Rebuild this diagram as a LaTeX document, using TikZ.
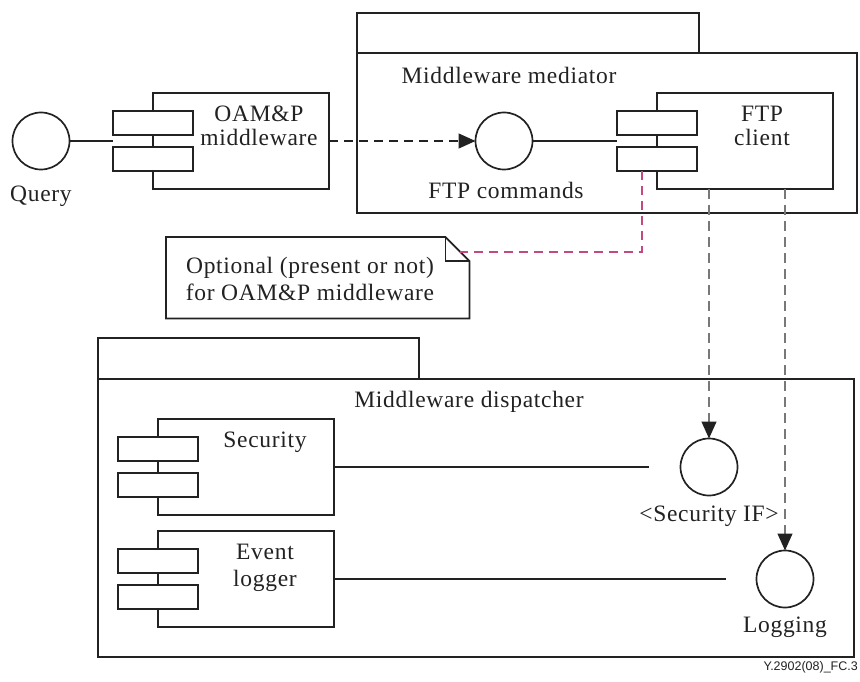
\documentclass[tikz,border=0pt]{standalone}
\usepackage{fontspec}
\setmainfont{Liberation Serif}[LetterSpace=3]
\setsansfont{Liberation Sans}
\usetikzlibrary{arrows.meta,calc}

\definecolor{ink}{RGB}{34,34,34}
\definecolor{depgray}{RGB}{120,120,120}
\definecolor{notepink}{RGB}{196,72,132}

\tikzset{
  box/.style={draw=ink, line width=1.7pt, fill=white, inner sep=0pt, outer sep=0pt},
  comp/.style={box, minimum width=176pt, minimum height=96pt, anchor=north west},
  port/.style={box, minimum width=80pt, minimum height=24pt, anchor=north west},
  iface/.style={circle, draw=ink, line width=1.7pt, fill=white, minimum size=57pt, inner sep=0pt, outer sep=0pt},
  lbl/.style={inner sep=0pt, anchor=base, text=ink, font=\fontsize{23.5}{25}\selectfont},
  wire/.style={draw=ink, line width=1.6pt},
  usage/.style={draw=ink, line width=1.2pt, dash pattern=on 9pt off 6pt,
    -{Triangle[length=17pt,width=15pt]}},
  depend/.style={draw=depgray, line width=1.2pt, dash pattern=on 10pt off 6pt,
    -{Triangle[length=17pt,width=15pt,color=ink]}},
  notelink/.style={draw=notepink, line width=1.2pt, dash pattern=on 9pt off 6pt},
}

% UML component: body plus two port rectangles on its left edge
\newcommand\umlcomponent[3]{%
  \node[comp] (#1) at (#2,#3) {};
  \node[port] (#1-p1) at (#2-40,#3+18) {};
  \node[port] (#1-p2) at (#2-40,#3+54) {};
  \coordinate (#1-in) at ($(#1-p1.south west)!0.5!(#1-p2.north west)$);
}

\begin{document}
\begin{tikzpicture}[x=1pt,y=-1pt]
\useasboundingbox (0,0) rectangle (860,682);

% ---- Middleware mediator package ----
\node[box, minimum width=342pt, minimum height=40pt, anchor=north west] (medtab) at (357,13) {};
\node[box, minimum width=500pt, minimum height=160pt, anchor=north west] (med) at (357,53) {};
\node[lbl] (medname) at (509,84) {Middleware mediator};

% ---- Middleware dispatcher package ----
\node[box, minimum width=321pt, minimum height=41pt, anchor=north west] (distab) at (98,338) {};
\node[box, minimum width=756pt, minimum height=278pt, anchor=north west] (dis) at (98,379) {};
\node[lbl] (disname) at (469,407) {Middleware dispatcher};

% ---- Query interface and OAM&P middleware ----
\node[iface] (query) at (41,141) {};
\node[lbl] (querytxt) at (41,201) {Query};
\umlcomponent{oam}{153}{93}
\node[lbl] (oamtxtA) at (259,122) {OAM\&P};
\node[lbl] (oamtxtB) at (259,146) {middleware};

% ---- FTP commands interface and FTP client ----
\node[iface] (ftpcmd) at (504,141) {};
\node[lbl] (ftpcmdtxt) at (506,199) {FTP commands};
\umlcomponent{ftp}{657}{93}
\node[lbl] (ftptxtA) at (762,122) {FTP};
\node[lbl] (ftptxtB) at (762,146) {client};

% ---- Dispatcher contents ----
\umlcomponent{sec}{158}{419}
\node[lbl] (sectxt) at (265,447) {Security};
\umlcomponent{evl}{158}{531}
\node[lbl] (evltxtA) at (265,559) {Event};
\node[lbl] (evltxtB) at (265,586) {logger};
\node[iface] (secif) at (709,467) {};
\node[lbl] (seciftxt) at (709,521) {<Security IF>};
\node[iface] (logif) at (785,579) {};
\node[lbl] (logiftxt) at (785,632) {Logging};

% ---- Note with folded corner ----
\node[inner sep=0pt, minimum width=303pt, minimum height=81pt, anchor=north west] (note) at (166,237) {};
\draw[draw=ink, line width=1.7pt, fill=white, line join=miter]
  (note.north west) -- ([xshift=-24pt]note.north east)
  -- ([yshift=-24pt]note.north east) -- (note.south east)
  -- (note.south west) -- cycle;
\draw[draw=ink, line width=1.7pt]
  ([xshift=-24pt]note.north east) -- ([xshift=-24pt,yshift=-24pt]note.north east)
  -- ([yshift=-24pt]note.north east);
\node[lbl] (notetxtA) at (310,273) {Optional (present or not)};
\node[lbl] (notetxtB) at (310,300) {for OAM\&P middleware};
\coordinate (noteanchor) at ([xshift=-9pt,yshift=-15pt]note.north east);

% ---- Connectors ----
\draw[wire] (query.east) -- (oam-in);
\draw[usage] (oam.east) -- (ftpcmd.west);
\draw[wire] (ftpcmd.east) -- (ftp-in);
\draw[notelink] ([xshift=-15pt]ftp-p2.south) |- (noteanchor);
\draw[depend] (secif.north |- ftp.south) -- (secif.north);
\draw[depend] (logif.north |- ftp.south) -- (logif.north);
\draw[wire, shorten >=32pt] (sec.east) -- (secif.west);
\draw[wire, shorten >=31pt] (evl.east) -- (logif.west);

% ---- Figure reference ----
\node[inner sep=0pt, anchor=base east, text=ink, font=\sffamily\fontsize{12.5}{14}\selectfont] (figref) at (858,670) {Y.2902(08)\_FC.3};
\end{tikzpicture}
\end{document}
